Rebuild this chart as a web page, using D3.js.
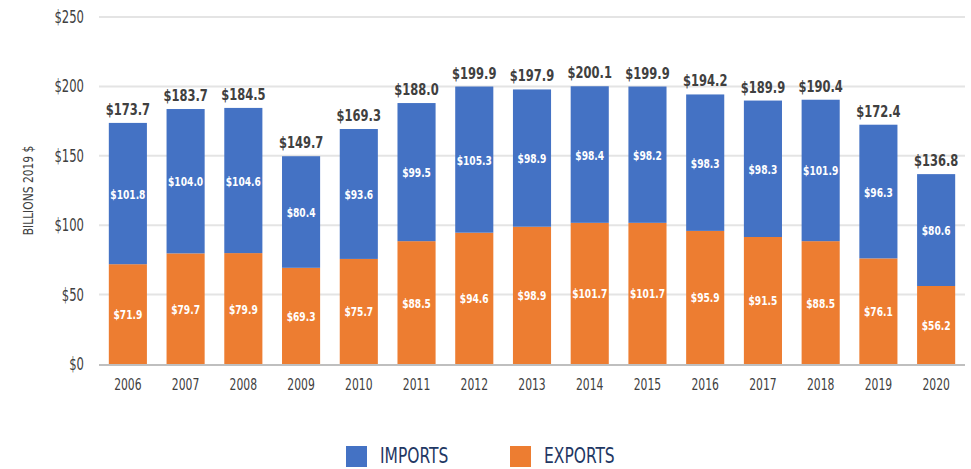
<!DOCTYPE html>
<html lang='en'>
<head>
<meta charset='UTF-8'>
<script src='https://d3js.org/d3.v7.min.js'></script>
<title>Imports and Exports</title>
<style>
  body { margin: 0; background: #fff; }
  svg text { font-family: 'DejaVu Sans Condensed', 'DejaVu Sans', sans-serif; font-stretch: condensed; }
</style>
</head>
<body>
<svg id='chart' width='971' height='469'></svg>
<script>
// values (billions, 2019 $)
const years = ['2006','2007','2008','2009','2010','2011','2012','2013','2014','2015','2016','2017','2018','2019','2020']
const exportsVals = [71.9, 79.7, 79.9, 69.3, 75.7, 88.5, 94.6, 98.9, 101.7, 101.7, 95.9, 91.5, 88.5, 76.1, 56.2]
const importsVals = [101.8, 104.0, 104.6, 80.4, 93.6, 99.5, 105.3, 98.9, 98.4, 98.2, 98.3, 98.3, 101.9, 96.3, 80.6]
const totals = [173.7, 183.7, 184.5, 149.7, 169.3, 188.0, 199.9, 197.9, 200.1, 199.9, 194.2, 189.9, 190.4, 172.4, 136.8]
const yTicks = [0, 50, 100, 150, 200, 250]

const blue = '#4472C4', orange = '#ED7D31'

const svg = d3.select('#chart')
const x = d3.scaleBand().domain(years).range([99, 965]).paddingInner(0.34).paddingOuter(0.17)
const y = d3.scaleLinear().domain([0, 250]).range([364, 17])

// gridlines + tick labels (text squeezed horizontally to mimic the narrow face)
svg.append('g').selectAll('line').data(yTicks.filter(d => d > 0)).enter().append('line')
  .attr('x1', 99).attr('x2', 965)
  .attr('y1', d => y(d)).attr('y2', d => y(d))
  .style('stroke', '#e4e4e4').style('stroke-width', 2)

svg.append('g').selectAll('text').data(yTicks).enter().append('text')
  .attr('transform', d => `translate(84,${y(d) + 6}) scale(0.76,1)`)
  .attr('text-anchor', 'end')
  .style('font-size', '17px').style('fill', '#404040')
  .text(d => '$' + d)

svg.append('text')
  .attr('transform', `translate(33, ${y(125)}) rotate(-90) scale(0.85,1)`)
  .attr('text-anchor', 'middle')
  .style('font-size', '14px').style('fill', '#404040')
  .text('BILLIONS 2019 $')

const rows = years.map((yr, i) => ({ yr, exp: exportsVals[i], imp: importsVals[i], tot: totals[i] }))
const mid = d => x(d.yr) + x.bandwidth() / 2

const g = svg.append('g').selectAll('g').data(rows).enter().append('g')

g.append('rect')
  .attr('x', d => x(d.yr)).attr('width', x.bandwidth())
  .attr('y', d => y(d.exp)).attr('height', d => y(0) - y(d.exp))
  .style('fill', orange)

g.append('rect')
  .attr('x', d => x(d.yr)).attr('width', x.bandwidth())
  .attr('y', d => y(d.exp + d.imp)).attr('height', d => y(d.exp) - y(d.exp + d.imp))
  .style('fill', blue)

g.append('text')
  .attr('transform', d => `translate(${mid(d)},${y(d.exp / 2) + 5}) scale(0.78,1)`)
  .attr('text-anchor', 'middle')
  .style('font-size', '13px').style('font-weight', 'bold').style('fill', '#fff')
  .text(d => '$' + d.exp.toFixed(1))

g.append('text')
  .attr('transform', d => `translate(${mid(d)},${y(d.exp + d.imp / 2) + 5}) scale(0.78,1)`)
  .attr('text-anchor', 'middle')
  .style('font-size', '13px').style('font-weight', 'bold').style('fill', '#fff')
  .text(d => '$' + d.imp.toFixed(1))

g.append('text')
  .attr('transform', d => `translate(${mid(d)},${y(d.exp + d.imp) - 8}) scale(0.8,1)`)
  .attr('text-anchor', 'middle')
  .style('font-size', '16px').style('font-weight', 'bold').style('fill', '#404040')
  .text(d => '$' + d.tot.toFixed(1))

// baseline
svg.append('line')
  .attr('x1', 99).attr('x2', 965).attr('y1', y(0) + 1).attr('y2', y(0) + 1)
  .style('stroke', '#bfbfbf').style('stroke-width', 2)

// year labels
svg.append('g').selectAll('text').data(years).enter().append('text')
  .attr('transform', d => `translate(${x(d) + x.bandwidth() / 2},390) scale(0.8,1)`)
  .attr('text-anchor', 'middle')
  .style('font-size', '15px').style('fill', '#404040')
  .text(d => d)

// legend
const legend = [{ name: 'IMPORTS', color: blue, x: 346 }, { name: 'EXPORTS', color: orange, x: 510 }]
const lg = svg.append('g').selectAll('g').data(legend).enter().append('g')
lg.append('rect').attr('x', d => d.x).attr('y', 446).attr('width', 21).attr('height', 21).style('fill', d => d.color)
lg.append('text')
  .attr('transform', d => `translate(${d.x + 34},463) scale(0.82,1)`)
  .style('font-size', '21px').style('fill', '#1f3864')
  .text(d => d.name)
</script>
</body>
</html>
